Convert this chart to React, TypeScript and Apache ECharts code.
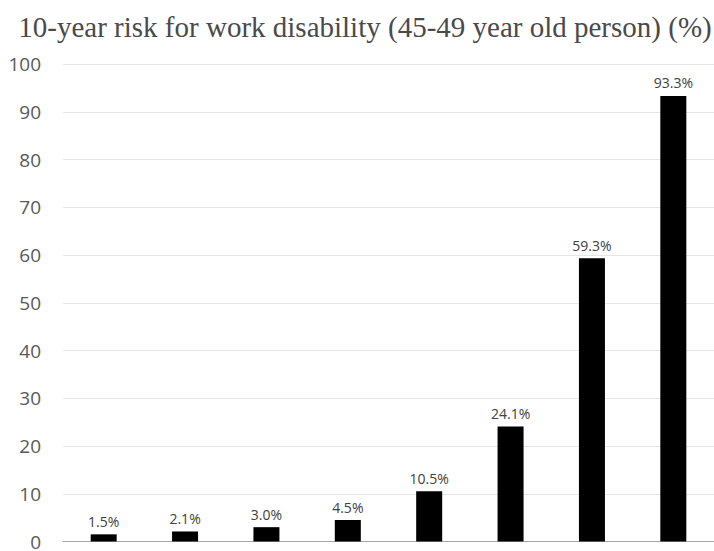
import React, { useEffect, useRef } from "react";
import * as echarts from "echarts";

// Risk groups along the x axis (their labels sit below the visible area)
const categories = ["G1", "G2", "G3", "G4", "G5", "G6", "G7", "G8"];
// 10-year risk for work disability, percent
const riskValues = [1.5, 2.1, 3.0, 4.5, 10.5, 24.1, 59.3, 93.3];
const titleText = "10-year risk for work disability (45-49 year old person) (%)";

export default function App() {
  const ref = useRef<HTMLDivElement>(null);

  useEffect(() => {
    if (!ref.current) return;
    const chart = echarts.init(ref.current, null, { renderer: "svg" });
    chart.setOption({
      animation: false,
      backgroundColor: "#ffffff",
      title: {
        text: titleText,
        left: 360,
        textAlign: "center",
        top: 7,
        textStyle: {
          fontFamily: "Liberation Serif",
          fontSize: 29,
          fontWeight: "normal",
          color: "#4a4a4a",
        },
      },
      grid: { left: 63, top: 64, width: 656, height: 481, containLabel: false },
      xAxis: {
        type: "category",
        data: categories,
        axisLine: { lineStyle: { color: "#a6a6a6", width: 1 } },
        axisTick: { show: false },
        axisLabel: { show: false },
      },
      yAxis: {
        type: "value",
        min: 0,
        max: 100,
        interval: 10,
        axisLine: { show: false },
        axisTick: { show: false },
        splitLine: { lineStyle: { color: "#e6e6e6", width: 1 } },
        axisLabel: {
          margin: 22,
          fontFamily: "Open Sans",
          fontSize: 19,
          color: "#595959",
        },
      },
      series: [
        {
          type: "bar",
          data: riskValues,
          barWidth: 26,
          itemStyle: { color: "#000000" },
          label: {
            show: true,
            position: "top",
            distance: 6,
            formatter: (p: any) => `${Number(p.value).toFixed(1)}%`,
            fontFamily: "Open Sans",
            fontSize: 14,
            color: "#404040",
          },
        },
      ],
    });
    return () => chart.dispose();
  }, []);

  return (
    <div
      ref={ref}
      style={{ position: "fixed", left: 0, top: 0, width: 714, height: 551 }}
    />
  );
}
